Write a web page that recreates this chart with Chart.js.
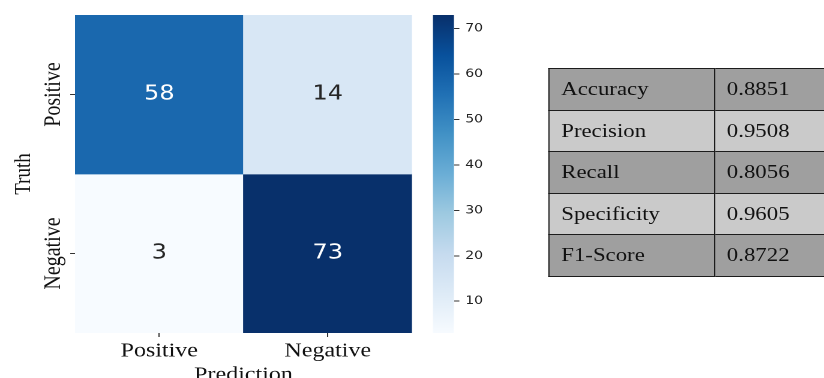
<!DOCTYPE html>
<html>
<head>
<meta charset="utf-8">
<script src="https://cdn.jsdelivr.net/npm/chart.js@4"></script>
<style>
  html, body { margin: 0; padding: 0; background: #fff; overflow: hidden; }
  /* the source image is stretched horizontally, so the whole figure is drawn narrow and widened */
  #wrap { position: absolute; left: 0; top: 0; width: 700px; height: 390px; transform: scaleX(1.2); transform-origin: 0 0; }
  #heat { position: absolute; left: 0; top: 0; }
  #cbar { position: absolute; left: 355px; top: 0; }
  #metrics { position: absolute; left: 456.7px; top: 68px; width: 240px; border-collapse: collapse;
             font-family: "Liberation Serif", "Times New Roman", serif; font-size: 19px; color: #111; }
  #metrics td { border: 1.5px solid #1c1c1c; height: 40.5px; padding: 0 0 0 10px; vertical-align: middle; }
  #metrics td.name { width: 127px; }
  #metrics tr.dark td { background: #9f9f9f; }
  #metrics tr.light td { background: #cacaca; }
</style>
</head>
<body>
<div id="wrap">
  <canvas id="heat" width="350" height="390"></canvas>
  <canvas id="cbar" width="70" height="378"></canvas>
  <table id="metrics"></table>
</div>
<script>
const predLabels = ['Positive', 'Negative'];
const truthLabels = ['Positive', 'Negative'];
const counts = [
    [58, 14],
    [3, 73]
];
const colorbarTicks = [10, 20, 30, 40, 50, 60, 70];
const metricNames = ['Accuracy', 'Precision', 'Recall', 'Specificity', 'F1-Score'];
const metricValues = [0.8851, 0.9508, 0.8056, 0.9605, 0.8722];

// matplotlib "Blues"
const BLUES = ['#f7fbff', '#deebf7', '#c6dbef', '#9ecae1', '#6baed6', '#4292c6', '#2171b5', '#08519c', '#08306b'];

let allCounts = counts.flat();
let vmin = Math.min(...allCounts);
let vmax = Math.max(...allCounts);

let hexToRgb = function(h) {
    return [parseInt(h.substr(1, 2), 16), parseInt(h.substr(3, 2), 16), parseInt(h.substr(5, 2), 16)];
};

let blues = function(v) {
    let t = (v - vmin) / (vmax - vmin);
    t = Math.max(0, Math.min(1, t)) * (BLUES.length - 1);
    let i = Math.min(Math.floor(t), BLUES.length - 2);
    let f = t - i;
    let a = hexToRgb(BLUES[i]), b = hexToRgb(BLUES[i + 1]);
    let c = a.map((x, k) => Math.round(x + (b[k] - x) * f));
    return 'rgb(' + c.join(',') + ')';
};

let n = truthLabels.length;
let serif = '"Liberation Serif", "Times New Roman", serif';
let sans = '"DejaVu Sans", sans-serif';

// cell numbers
let annotate = {
    id: 'annotate',
    afterDatasetsDraw(chart) {
        let ctx = chart.ctx;
        ctx.save();
        ctx.font = '20px ' + sans;
        ctx.textAlign = 'center';
        ctx.textBaseline = 'middle';
        chart.data.datasets.forEach((ds, i) => {
            chart.getDatasetMeta(i).data.forEach((bar, j) => {
                let v = ds.counts[j];
                ctx.fillStyle = (v - vmin) / (vmax - vmin) > 0.5 ? '#ffffff' : '#262626';
                ctx.fillText(String(v), bar.x, (bar.y + bar.base) / 2);
            });
        });
        ctx.restore();
    }
};

let heatChart = new Chart(document.getElementById('heat'), {
    type: 'bar',
    data: {
        labels: predLabels,
        datasets: truthLabels.map((t, i) => ({
            label: t,
            data: predLabels.map(() => [n - 1 - i, n - i]),
            counts: counts[i],
            backgroundColor: counts[i].map(blues),
            borderWidth: 0,
            grouped: false,
            barPercentage: 1,
            categoryPercentage: 1
        }))
    },
    options: {
        responsive: false,
        animation: false,
        devicePixelRatio: 2,
        layout: { padding: { top: 15, right: 6.7, left: 0, bottom: 0 } },
        plugins: { legend: { display: false }, tooltip: { enabled: false } },
        scales: {
            x: {
                offset: true,
                border: { display: false },
                grid: { offset: false, drawOnChartArea: false, drawTicks: true, tickLength: 4, tickColor: '#333' },
                ticks: { color: '#111', padding: 2, font: { family: serif, size: 20 } },
                title: { display: true, text: 'Prediction', color: '#111', font: { family: serif, size: 20 }, padding: { top: 0, bottom: 3 } },
                afterFit: (s) => { s.height = 57; }
            },
            y: {
                min: 0,
                max: n,
                border: { display: false },
                grid: { drawOnChartArea: false, drawTicks: true, tickLength: 4, tickColor: '#333' },
                afterBuildTicks: (s) => {
                    s.ticks = truthLabels.map((_, i) => ({ value: i + 0.5 }));
                },
                ticks: {
                    color: '#111',
                    minRotation: 90,
                    maxRotation: 90,
                    crossAlign: 'center',
                    padding: -22.5,
                    font: { family: serif, size: 20 },
                    callback: (v) => truthLabels[n - 1 - Math.floor(v)]
                },
                title: { display: true, text: 'Truth', color: '#111', font: { family: serif, size: 19 }, padding: { top: 8.5, bottom: 0 } },
                afterFit: (s) => { s.width = 62.5; }
            }
        }
    },
    plugins: [annotate]
});

// colour bar
let cbarChart = new Chart(document.getElementById('cbar'), {
    type: 'bar',
    data: {
        labels: [''],
        datasets: [{
            data: [[vmin, vmax]],
            borderWidth: 0,
            barPercentage: 1,
            categoryPercentage: 1,
            backgroundColor: (c) => {
                let area = c.chart.chartArea;
                if (!area) return BLUES[4];
                let g = c.chart.ctx.createLinearGradient(0, area.bottom, 0, area.top);
                BLUES.forEach((col, k) => g.addColorStop(k / (BLUES.length - 1), col));
                return g;
            }
        }]
    },
    options: {
        responsive: false,
        animation: false,
        devicePixelRatio: 2,
        layout: { padding: { top: 15, bottom: 45, left: 5.8, right: 0 } },
        plugins: { legend: { display: false }, tooltip: { enabled: false } },
        scales: {
            x: { display: false },
            y: {
                position: 'right',
                min: vmin,
                max: vmax,
                border: { display: false },
                grid: { drawOnChartArea: false, drawTicks: true, tickLength: 4.5, tickColor: '#333' },
                afterBuildTicks: (s) => {
                    s.ticks = colorbarTicks.map((v) => ({ value: v }));
                },
                ticks: { color: '#222', padding: 5, font: { family: sans, size: 11.5 } },
                afterFit: (s) => { s.width = 46.7; }
            }
        }
    }
});

// metrics table
let table = document.getElementById('metrics');
metricNames.forEach((name, i) => {
    let tr = document.createElement('tr');
    tr.className = i % 2 === 0 ? 'dark' : 'light';
    let a = document.createElement('td');
    a.className = 'name';
    a.textContent = name;
    let b = document.createElement('td');
    b.textContent = metricValues[i].toFixed(4);
    tr.appendChild(a);
    tr.appendChild(b);
    table.appendChild(tr);
});
</script>
</body>
</html>
